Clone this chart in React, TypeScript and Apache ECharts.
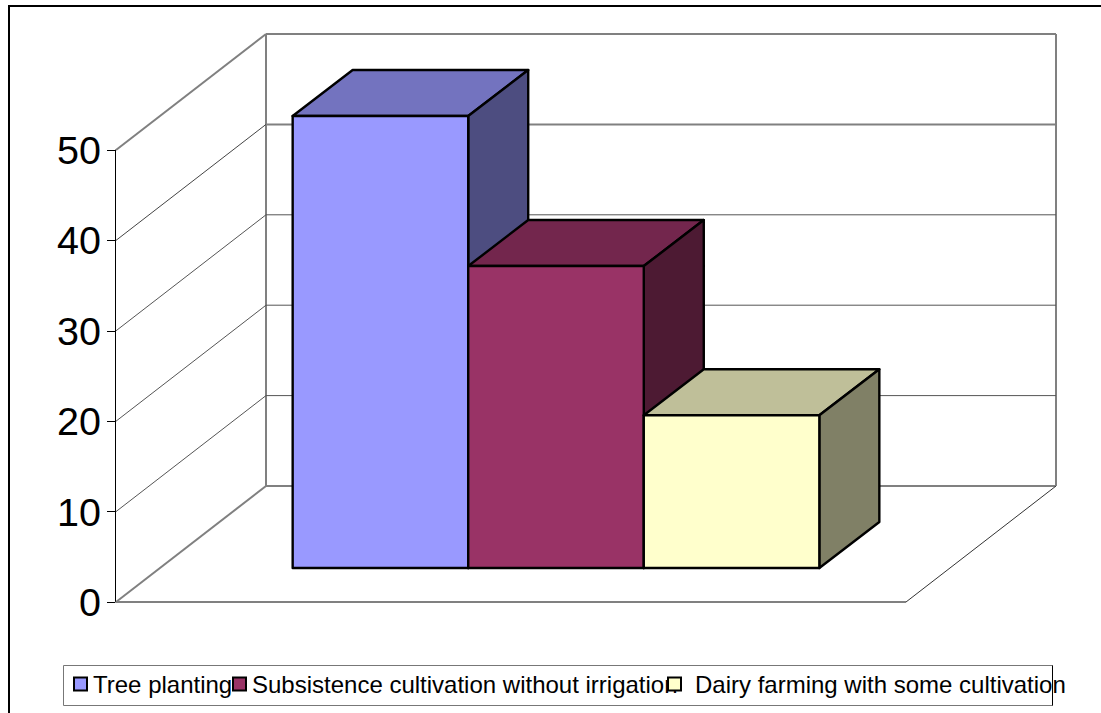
import React, { useEffect, useRef } from "react";
import * as echarts from "echarts";

const categories = ["Land use"];
const seriesNames = [
  "Tree planting",
  "Subsistence cultivation without irrigation",
  "Dairy farming with some cultivation",
];
const seriesValues = [50, 33.4, 16.9];
const frontColors = ["#9999FF", "#993366", "#FFFFCC"];
const topColors = ["#7373BF", "#73264D", "#BFBF99"];
const sideColors = ["#4D4D80", "#4D1A33", "#808066"];
const yTicks = [0, 10, 20, 30, 40, 50];
const legendLefts = [73, 232, 667];
const legendTextGaps = [1, 1, 9];

const FONT = '"Liberation Sans", Arial, sans-serif';
const GREY = "#808080";

// Oblique projection: how far the back wall and the bars sit behind the front plane.
const WALL_DX = 150;
const WALL_DY = 116;
const BAR_SHIFT_X = 45;
const BAR_SHIFT_Y = 34;
const BAR_DEPTH_X = 60;
const BAR_DEPTH_Y = 46;
const GAP_WIDTH = 1.5;

function line(x1: number, y1: number, x2: number, y2: number, stroke: string, lineWidth: number) {
  return { type: "line", shape: { x1, y1, x2, y2 }, style: { stroke, lineWidth, fill: null } };
}

function renderWalls(params: any, api: any) {
  const cs = params.coordSys;
  const v = api.value(1);
  const y = api.coord([0, v])[1];
  const left = cs.x;
  const right = cs.x + cs.width;
  const strong = v === 0 || v === 40 || v === 50;
  const stroke = strong ? GREY : "#555555";
  const width = strong ? 2 : 1;
  const children: any[] = [
    line(left, y, left + WALL_DX, y - WALL_DY, v === 40 ? "#444444" : stroke, v === 40 ? 1 : width),
    line(left + WALL_DX, y - WALL_DY, right + WALL_DX, y - WALL_DY, stroke, width),
  ];
  if (v === 0) {
    const top = api.coord([0, yTicks[yTicks.length - 1]])[1];
    children.push(
      line(left, y, right, y, GREY, 2),
      line(right, y, right + WALL_DX, y - WALL_DY, "#333333", 1),
      line(left + WALL_DX, y - WALL_DY, left + WALL_DX, top - WALL_DY, GREY, 2),
      line(right + WALL_DX, y - WALL_DY, right + WALL_DX, top - WALL_DY, GREY, 2),
    );
  }
  return { type: "group", children };
}

function renderBar(index: number) {
  return (_params: any, api: any) => {
    const base = api.coord([api.value(0), 0]);
    const tip = api.coord([api.value(0), api.value(1)]);
    const band = api.size([1, 0])[0];
    const w = band / (seriesValues.length + GAP_WIDTH);
    const x0 = base[0] - (w * seriesValues.length) / 2 + index * w + BAR_SHIFT_X;
    const x1 = x0 + w;
    const y0 = base[1] - BAR_SHIFT_Y;
    const y1 = tip[1] - BAR_SHIFT_Y;
    const edge = { stroke: "#000000", lineWidth: 2.4, lineJoin: "round" };
    return {
      type: "group",
      children: [
        {
          type: "polygon",
          shape: { points: [[x0, y1], [x1, y1], [x1 + BAR_DEPTH_X, y1 - BAR_DEPTH_Y], [x0 + BAR_DEPTH_X, y1 - BAR_DEPTH_Y]] },
          style: { fill: topColors[index], ...edge },
        },
        {
          type: "polygon",
          shape: { points: [[x1, y1], [x1 + BAR_DEPTH_X, y1 - BAR_DEPTH_Y], [x1 + BAR_DEPTH_X, y0 - BAR_DEPTH_Y], [x1, y0]] },
          style: { fill: sideColors[index], ...edge },
        },
        {
          type: "polygon",
          shape: { points: [[x0, y1], [x1, y1], [x1, y0], [x0, y0]] },
          style: { fill: frontColors[index], ...edge },
        },
      ],
    };
  };
}

export default function App() {
  const ref = useRef<HTMLDivElement>(null);

  useEffect(() => {
    document.body.style.margin = "0";
    const chart = echarts.init(ref.current!, null, { renderer: "svg" });
    chart.setOption({
      animation: false,
      backgroundColor: "#ffffff",
      grid: { left: 116, top: 150, width: 790, height: 452, containLabel: false },
      xAxis: { type: "category", data: categories, show: false },
      yAxis: {
        type: "value",
        min: 0,
        max: 50,
        interval: 10,
        offset: 1,
        splitLine: { show: false },
        axisLine: { show: true, lineStyle: { color: "#000000", width: 1 } },
        axisTick: { show: true, length: 8, lineStyle: { color: "#000000", width: 1 } },
        axisLabel: { color: "#000000", fontFamily: FONT, fontSize: 39.5, margin: 14, padding: [4, 0, 0, 0] },
      },
      legend: seriesNames.map((name, i) => ({
        left: legendLefts[i],
        top: 672,
        padding: 0,
        itemWidth: 13,
        itemHeight: 13,
        z: 5 + i,
        data: [
          {
            name,
            icon: "rect",
            itemStyle: { color: frontColors[i], borderColor: "#000000", borderWidth: 2 },
          },
        ],
        textStyle: {
          color: "#000000",
          fontFamily: FONT,
          fontSize: 24,
          padding: [0, 0, 0, legendTextGaps[i]],
        },
      })),
      graphic: [
        {
          type: "rect",
          z: -10,
          shape: { x: 9, y: 6, width: 1200, height: 800 },
          style: { fill: null, stroke: "#000000", lineWidth: 2 },
        },
        {
          type: "rect",
          z: 1,
          shape: { x: 63.5, y: 665.5, width: 989, height: 40 },
          style: { fill: "#ffffff", stroke: "#777777", lineWidth: 1 },
        },
        {
          type: "line",
          z: 2,
          shape: { x1: 1052.5, y1: 665.5, x2: 1052.5, y2: 705.5 },
          style: { stroke: "#000000", lineWidth: 1 },
        },
      ],
      series: [
        {
          type: "custom",
          name: "walls",
          z: 1,
          silent: true,
          renderItem: renderWalls,
          encode: { x: 0, y: 1 },
          data: yTicks.map((v) => [0, v]),
        },
        ...seriesNames.map((name, i) => ({
          type: "custom",
          name,
          z: 2 + i,
          renderItem: renderBar(i),
          encode: { x: 0, y: 1 },
          itemStyle: { color: frontColors[i] },
          data: [[0, seriesValues[i]]],
        })),
      ],
    });
    return () => chart.dispose();
  }, []);

  return <div ref={ref} style={{ width: 1101, height: 713 }} />;
}
